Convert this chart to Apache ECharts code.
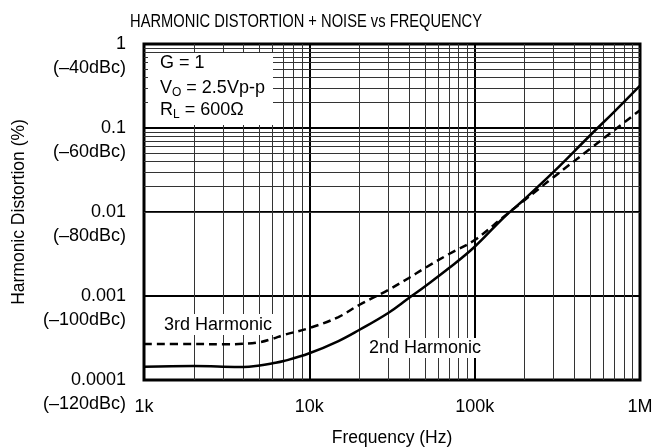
<!DOCTYPE html>
<html>
<head>
<meta charset="utf-8">
<script src="https://cdn.jsdelivr.net/npm/echarts@6/dist/echarts.min.js"></script>
<style>
  html, body { margin: 0; padding: 0; background: #fff; }
  #chart { width: 665px; height: 448px; }
</style>
</head>
<body>
<div id="chart"></div>
<script>
// frequency points (Hz)
var freqs = [1000, 2000, 3000, 4000, 5000, 6000, 7000, 10000, 15000, 20000, 30000, 40000, 50000, 70000,
             100000, 150000, 200000, 300000, 500000, 700000, 1000000];
// THD+N in percent
var secondHarm = [1.44e-4, 1.47e-4, 1.44e-4, 1.43e-4, 1.49e-4, 1.58e-4, 1.68e-4, 2.08e-4, 2.91e-4, 3.94e-4, 6.28e-4, 9.47e-4, 1.30e-3, 2.15e-3,
                  3.86e-3, 8.6e-3, 0.0142, 0.030, 0.082, 0.157, 0.32];
var thirdHarm = [2.68e-4, 2.68e-4, 2.66e-4, 2.70e-4, 2.82e-4, 3.10e-4, 3.43e-4, 4.16e-4, 5.62e-4, 7.81e-4, 1.18e-3, 1.64e-3, 2.15e-3, 3.16e-3,
                 4.64e-3, 8.8e-3, 0.0138, 0.0260, 0.0566, 0.0946, 0.163];

var xTickVals = [1000, 10000, 100000, 1000000];
var xTickLabels = ['1k', '10k', '100k', '1M'];
var yTickVals = [0.0001, 0.001, 0.01, 0.1, 1];
var yTickLabels = ['0.0001', '0.001', '0.01', '0.1', '1'];
var yDbLabels = ['(\u2013120dBc)', '(\u2013100dBc)', '(\u201380dBc)', '(\u201360dBc)', '(\u201340dBc)'];
var minorSteps = [2, 3, 4, 5, 6, 7, 8, 9];

var FONT = 'Liberation Sans, Arial, Helvetica, sans-serif';

function findTick(vals, v) {
    for (var i = 0; i < vals.length; i++) {
        if (Math.abs(Math.log10(vals[i]) - Math.log10(v)) < 1e-6) return i;
    }
    return -1;
}

// minor log grid lines (2..9 in each decade)
var minorLines = [];
xTickVals.slice(0, -1).forEach(function (d) {
    minorSteps.forEach(function (m) { minorLines.push({ xAxis: d * m }); });
});
yTickVals.slice(0, -1).forEach(function (d) {
    minorSteps.forEach(function (m) { minorLines.push({ yAxis: d * m }); });
});

var myChart = echarts.init(document.getElementById('chart'));
var option = {
    animation: false,
    textStyle: { fontFamily: FONT },
    grid: {
        left: 144, right: 25, top: 44, bottom: 68,
        outerBoundsMode: 'none',
        show: true, borderColor: '#000', borderWidth: 3, backgroundColor: 'transparent'
    },
    xAxis: {
        type: 'log',
        logBase: 10,
        min: 1000,
        max: 1000000,
        name: 'Frequency (Hz)',
        nameLocation: 'middle',
        nameGap: 49,
        nameTextStyle: { color: '#000', fontSize: 17.5, fontFamily: FONT },
        axisLine: { show: false },
        axisTick: { show: false },
        axisLabel: {
            color: '#000', fontSize: 18, fontFamily: FONT, margin: 18,
            formatter: function (v) {
                var i = findTick(xTickVals, v);
                return i < 0 ? '' : xTickLabels[i];
            }
        },
        splitLine: { show: true, lineStyle: { color: '#000', width: 2 } }
    },
    yAxis: {
        type: 'log',
        logBase: 10,
        min: 0.0001,
        max: 1,
        name: 'Harmonic Distortion (%)',
        nameLocation: 'middle',
        nameGap: 116,
        nameRotate: 90,
        nameTextStyle: { color: '#000', fontSize: 17.5, fontFamily: FONT },
        axisLine: { show: false },
        axisTick: { show: false },
        axisLabel: {
            color: '#000', fontSize: 18, fontFamily: FONT, margin: 18, lineHeight: 24,
            formatter: function (v) {
                var i = findTick(yTickVals, v);
                return i < 0 ? '' : '\n' + yTickLabels[i] + '\n' + yDbLabels[i];
            }
        },
        splitLine: { show: true, lineStyle: { color: '#000', width: 2 } }
    },
    graphic: [
        {
            type: 'text', x: 306, y: 22, scaleX: 0.84, z: 20,
            style: { text: 'HARMONIC DISTORTION + NOISE vs FREQUENCY', font: '17.5px ' + FONT,
                     fill: '#000', textAlign: 'center', textVerticalAlign: 'middle' }
        },
        { type: 'rect', z: 8, shape: { x: 148, y: 53, width: 125, height: 72 }, style: { fill: '#fff' } },
        {
            type: 'text', x: 160, y: 63, z: 20,
            style: { text: 'G = 1', font: '18px ' + FONT, fill: '#000', textVerticalAlign: 'middle' }
        },
        {
            type: 'text', x: 160, y: 88, z: 20,
            style: {
                text: 'V{s|O} = 2.5Vp-p', fill: '#000', font: '18px ' + FONT, textVerticalAlign: 'middle',
                rich: { s: { fontSize: 12, fontFamily: FONT, fill: '#000', padding: [10, 0, 0, 0] } }
            }
        },
        {
            type: 'text', x: 160, y: 110, z: 20,
            style: {
                text: 'R{s|L} = 600\u03A9', fill: '#000', font: '18px ' + FONT, textVerticalAlign: 'middle',
                rich: { s: { fontSize: 12, fontFamily: FONT, fill: '#000', padding: [10, 0, 0, 0] } }
            }
        },
        { type: 'rect', z: 8, shape: { x: 158, y: 314, width: 121, height: 21 }, style: { fill: '#fff' } },
        {
            type: 'text', x: 164, y: 325, z: 20,
            style: { text: '3rd Harmonic', font: '18px ' + FONT, fill: '#000', textVerticalAlign: 'middle' }
        },
        { type: 'rect', z: 8, shape: { x: 363, y: 338, width: 124, height: 20 }, style: { fill: '#fff' } },
        {
            type: 'text', x: 369, y: 348, z: 20,
            style: { text: '2nd Harmonic', font: '18px ' + FONT, fill: '#000', textVerticalAlign: 'middle' }
        }
    ],
    series: [
        {
            name: 'grid',
            type: 'line',
            z: 1,
            silent: true,
            data: [],
            markLine: {
                z: 1,
                silent: true,
                symbol: 'none',
                label: { show: false },
                animation: false,
                lineStyle: { color: '#333', width: 1, type: 'solid' },
                emphasis: { disabled: true },
                data: minorLines
            }
        },
        {
            name: '2nd Harmonic',
            type: 'line',
            z: 10,
            smooth: 0.4,
            symbol: 'none',
            lineStyle: { color: '#000', width: 2.5 },
            data: freqs.map(function (f, i) { return [f, secondHarm[i]]; })
        },
        {
            name: '3rd Harmonic',
            type: 'line',
            z: 10,
            smooth: 0.4,
            symbol: 'none',
            lineStyle: { color: '#000', width: 2.5, type: [8, 5] },
            data: freqs.map(function (f, i) { return [f, thirdHarm[i]]; })
        }
    ]
};
myChart.setOption(option);
</script>
</body>
</html>
